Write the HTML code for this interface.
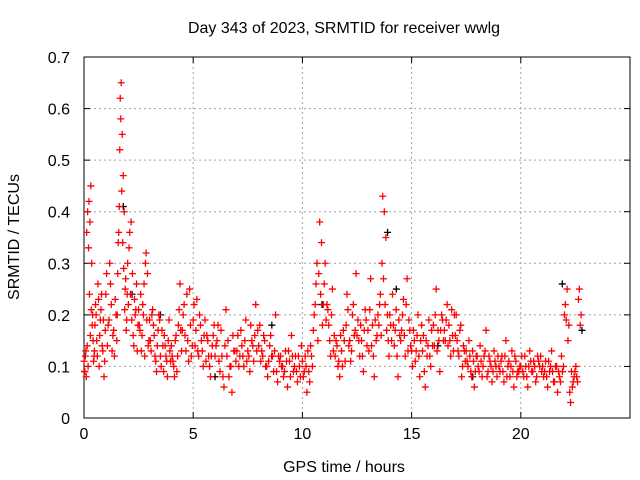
<!DOCTYPE html>
<html><head><meta charset="utf-8"><style>
html,body{margin:0;padding:0;background:#fff}
svg{display:block;font-family:"Liberation Sans",sans-serif}
</style></head><body>
<svg id="chart" width="640" height="480"></svg>
<script>
const xTicks=[0,5,10,15,20];
const yTicks=[0,0.1,0.2,0.3,0.4,0.5,0.6,0.7];
const yTickLabels=["0","0.1","0.2","0.3","0.4","0.5","0.6","0.7"];
const segStarts=[0,0.5,1,1.5,2,2.5,3,3.5,4,4.5,5,6,7,8,9,10,10.5,11,11.5,12,12.5,13,13.5,14,14.5,15,15.5,16,16.5,17,17.5,18,19,20,21,22];
const segEnds=[0.5,1,1.5,2,2.5,3,3.5,4,4.5,5,6,7,8,9,10,10.5,11,11.5,12,12.5,13,13.5,14,14.5,15,15.5,16,16.5,17,17.5,18,19,20,21,22,22.8];
const segValues=[
[0.09,0.12,0.08,0.14,0.10,0.42,0.38,0.45,0.30,0.20,0.11,0.13],
[0.22,0.15,0.26,0.10,0.19,0.24,0.13,0.08,0.17],
[0.28,0.18,0.30,0.22,0.16,0.12,0.20],
[0.20,0.34,0.41,0.62,0.65,0.55,0.47,0.40,0.25,0.17,0.24],
[0.22,0.36,0.38,0.28,0.14,0.20,0.26,0.18],
[0.18,0.24,0.16,0.20,0.12,0.32,0.28,0.15],
[0.15,0.20,0.18,0.12,0.09,0.17,0.19],
[0.10,0.14,0.16,0.12,0.08,0.19,0.11],
[0.12,0.10,0.15,0.09,0.18,0.26,0.13],
[0.20,0.16,0.24,0.11,0.18,0.14],
[0.22,0.17,0.13,0.20,0.15,0.10,0.19,0.16,0.12,0.08,0.14,0.18],
[0.14,0.18,0.09,0.12,0.06,0.21,0.15,0.10,0.05,0.13,0.11],
[0.16,0.12,0.14,0.10,0.19,0.13,0.09,0.15,0.11,0.22,0.17],
[0.18,0.13,0.16,0.10,0.08,0.14,0.12,0.09,0.20,0.07,0.11],
[0.10,0.08,0.13,0.06,0.11,0.16,0.09,0.12,0.07,0.10,0.14],
[0.08,0.12,0.05,0.09,0.14,0.10],
[0.20,0.26,0.15,0.38,0.34,0.22],
[0.30,0.22,0.18,0.12,0.25,0.16],
[0.15,0.10,0.08,0.13,0.17,0.11],
[0.24,0.14,0.11,0.20,0.16,0.28],
[0.19,0.12,0.15,0.09,0.21,0.14],
[0.13,0.27,0.18,0.08,0.15,0.20],
[0.22,0.16,0.43,0.40,0.35,0.20,0.12],
[0.18,0.24,0.14,0.21,0.08,0.16],
[0.17,0.23,0.12,0.27,0.19,0.14],
[0.10,0.15,0.13,0.20,0.08,0.18],
[0.16,0.06,0.12,0.19,0.10,0.14],
[0.14,0.25,0.17,0.09,0.20,0.15],
[0.15,0.22,0.18,0.12,0.16,0.20],
[0.20,0.13,0.17,0.08,0.14,0.11],
[0.11,0.15,0.09,0.13,0.06,0.12],
[0.10,0.14,0.08,0.12,0.17,0.09,0.11,0.07,0.13,0.10,0.12],
[0.09,0.12,0.07,0.15,0.10,0.08,0.13,0.06,0.11,0.09,0.10],
[0.12,0.08,0.10,0.06,0.13,0.09,0.11,0.07,0.12,0.10,0.09],
[0.08,0.11,0.06,0.09,0.13,0.07,0.10,0.05,0.08,0.12,0.10],
[0.22,0.25,0.18,0.03,0.06,0.08,0.10,0.07,0.25,0.20]
];
const segValues2=[
[0.11,0.09,0.13,0.36,0.40,0.33,0.24,0.16,0.21,0.18,0.15,0.12],
[0.18,0.20,0.12,0.23,0.16,0.21,0.14,0.19,0.11],
[0.24,0.14,0.19,0.26,0.13,0.17,0.23],
[0.15,0.28,0.36,0.52,0.58,0.44,0.34,0.29,0.21,0.27,0.19],
[0.30,0.33,0.24,0.19,0.16,0.23,0.21,0.13],
[0.21,0.17,0.13,0.22,0.26,0.30,0.19,0.14],
[0.19,0.13,0.21,0.16,0.11,0.14,0.20],
[0.12,0.17,0.09,0.14,0.11,0.15,0.13],
[0.14,0.11,0.08,0.16,0.12,0.21,0.17],
[0.17,0.22,0.13,0.15,0.25,0.12],
[0.19,0.14,0.23,0.12,0.18,0.13,0.16,0.11,0.15,0.10,0.12,0.16],
[0.12,0.15,0.11,0.17,0.08,0.14,0.12,0.08,0.10,0.16,0.13],
[0.13,0.10,0.17,0.12,0.15,0.11,0.12,0.18,0.14,0.16,0.13],
[0.14,0.11,0.12,0.15,0.10,0.11,0.16,0.12,0.13,0.09,0.12],
[0.12,0.10,0.09,0.11,0.13,0.08,0.12,0.10,0.09,0.12,0.08],
[0.11,0.09,0.10,0.13,0.07,0.12],
[0.17,0.22,0.30,0.28,0.24,0.18],
[0.26,0.19,0.21,0.15,0.20,0.13],
[0.12,0.14,0.11,0.16,0.10,0.15],
[0.18,0.21,0.15,0.13,0.22,0.17],
[0.16,0.15,0.18,0.12,0.17,0.19],
[0.17,0.21,0.14,0.12,0.19,0.16],
[0.18,0.24,0.30,0.27,0.22,0.17,0.15],
[0.20,0.15,0.18,0.17,0.12,0.19],
[0.15,0.20,0.16,0.22,0.13,0.17],
[0.13,0.17,0.11,0.16,0.12,0.15],
[0.13,0.09,0.15,0.14,0.12,0.17],
[0.18,0.20,0.13,0.15,0.17,0.19],
[0.17,0.19,0.14,0.15,0.21,0.13],
[0.16,0.15,0.12,0.18,0.10,0.13],
[0.13,0.10,0.12,0.08,0.11,0.09],
[0.12,0.09,0.11,0.10,0.13,0.08,0.12,0.10,0.09,0.11,0.08],
[0.10,0.11,0.09,0.12,0.08,0.11,0.10,0.09,0.12,0.08,0.09],
[0.10,0.09,0.12,0.08,0.10,0.11,0.09,0.10,0.08,0.11,0.12],
[0.10,0.09,0.08,0.11,0.10,0.09,0.07,0.10,0.09,0.07,0.09],
[0.20,0.19,0.15,0.05,0.09,0.07,0.09,0.08,0.23,0.18]
];
const blackTimes=[1.8,2.2,3.5,6.0,8.6,10.9,13.9,14.3,16.2,17.8,21.9,22.8];
const blackValues=[0.41,0.24,0.20,0.08,0.18,0.22,0.36,0.25,0.14,0.08,0.26,0.17];

const L=84,T=57,R=630,B=418,XMAX=25,YMAX=0.7;
const sx=v=>L+(R-L)*v/XMAX;
const sy=v=>B-(B-T)*v/YMAX;
const svg=document.getElementById('chart');
const NS='http://www.w3.org/2000/svg';
function mk(tag,attrs){const e=document.createElementNS(NS,tag);for(const k in attrs)e.setAttribute(k,attrs[k]);svg.appendChild(e);return e;}
xTicks.forEach((t,i)=>{
  if(t>0){const g=mk('line',{x1:sx(t),x2:sx(t),y1:T,y2:B,stroke:'#a0a0a0','stroke-dasharray':'2,3'});
  
  }
  const tk=mk('line',{x1:sx(t),x2:sx(t),y1:B,y2:B-6,stroke:'#000'});
  
  
  const tk2=mk('line',{x1:sx(t),x2:sx(t),y1:T,y2:T+6,stroke:'#000'});
  
  
  const lb=mk('text',{x:sx(t),y:B+21,'text-anchor':'middle','font-size':'16',fill:'#000'});
  lb.textContent=String(t);
  
  
});
yTicks.forEach((t,i)=>{
  if(t>0&&t<YMAX){const g=mk('line',{x1:L,x2:R,y1:sy(t),y2:sy(t),stroke:'#a0a0a0','stroke-dasharray':'2,3'});
  
  }
  const tk=mk('line',{x1:L,x2:L+6,y1:sy(t),y2:sy(t),stroke:'#000'});
  
  
  const tk2=mk('line',{x1:R,x2:R-6,y1:sy(t),y2:sy(t),stroke:'#000'});
  
  
  const lb=mk('text',{x:L-14,y:sy(t)+6,'text-anchor':'end','font-size':'16',fill:'#000'});
  lb.textContent=yTickLabels[i];
  
  
});
const frame=mk('rect',{x:L,y:T,width:R-L,height:B-T,fill:'none',stroke:'#000'});


function plus(x,y,c,name){
  const p=mk('path',{d:`M${x-3.5},${y}h7M${x},${y-3.5}v7`,stroke:c,'stroke-width':'1.3',fill:'none'});
  
  
}
blackTimes.forEach((t,i)=>plus(sx(t),sy(blackValues[i]),'#000','black-point'));
function drawSeries(arr,offset){
  arr.forEach((vals,s)=>{
    const a=segStarts[s],b=segEnds[s];
    vals.forEach((v,j)=>{
      const t=a+(b-a)*(j+offset)/vals.length;
      plus(sx(t),sy(v),'#ff0000','red-point');
    });
  });
}
drawSeries(segValues,0.5);
drawSeries(segValues2,0.0);
const title=mk('text',{x:344,y:33,'text-anchor':'middle','font-size':'16',fill:'#000'});
title.textContent='Day 343 of 2023, SRMTID for receiver wwlg';


const xt=mk('text',{x:344,y:472,'text-anchor':'middle','font-size':'16',fill:'#000'});
xt.textContent='GPS time / hours';


const yt=mk('text',{x:0,y:0,'text-anchor':'middle','font-size':'16',fill:'#000',transform:'translate(19,237) rotate(-90)'});
yt.textContent='SRMTID / TECUs';


</script>
</body></html>
